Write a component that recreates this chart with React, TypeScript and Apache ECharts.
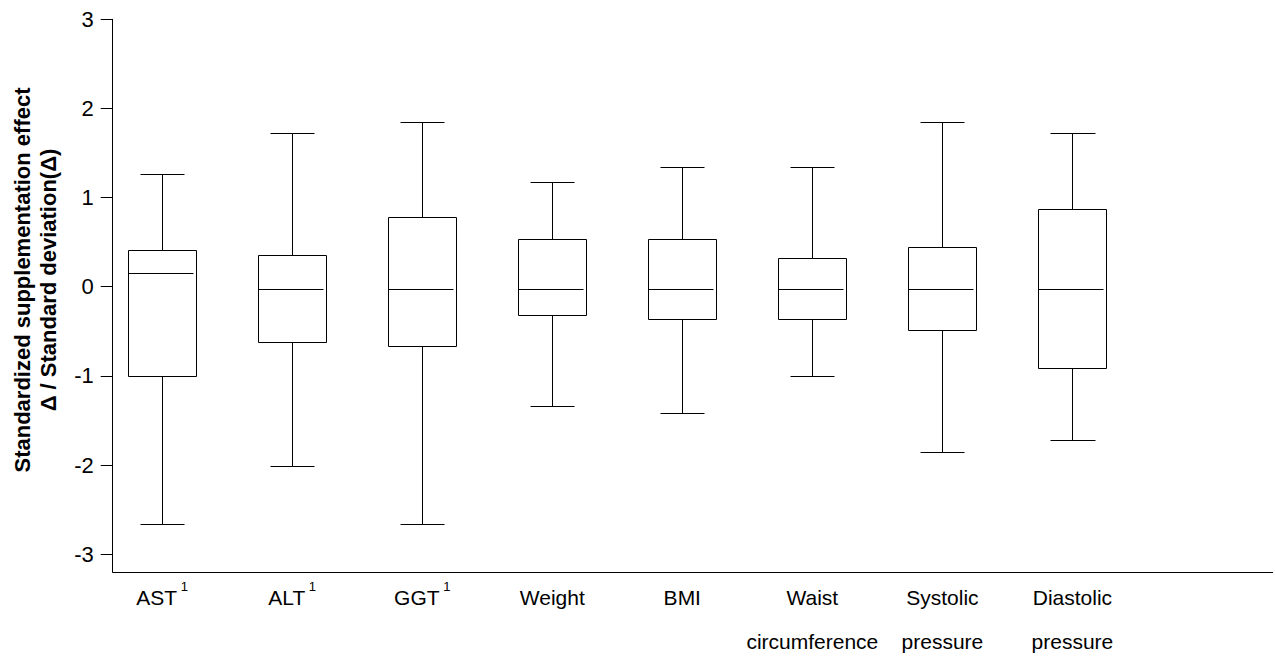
import React, { useEffect, useRef } from "react";
import * as echarts from "echarts";

const categories = ["AST", "ALT", "GGT", "Weight", "BMI", "Waist\ncircumference", "Systolic\npressure", "Diastolic\npressure"];
const superscripts = ["1", "1", "1", "", "", "", "", ""];
const mins = [-2.66, -2.01, -2.66, -1.34, -1.42, -1.0, -1.85, -1.72];
const q1s = [-1.0, -0.62, -0.66, -0.32, -0.36, -0.36, -0.49, -0.91];
const medians = [0.15, -0.02, -0.02, -0.02, -0.02, -0.02, -0.02, -0.02];
const q3s = [0.41, 0.36, 0.78, 0.53, 0.53, 0.32, 0.45, 0.87];
const maxs = [1.26, 1.72, 1.85, 1.17, 1.34, 1.34, 1.85, 1.72];
const yTicks = [-3, -2, -1, 0, 1, 2, 3];
const yTitle = "Standardized supplementation effect\nΔ / Standard deviation(Δ)";

const FONT = '"Liberation Sans", Arial, sans-serif';
const BOX_WIDTH = 0.523;
const CAP_WIDTH = 0.34;

export default function App() {
  const ref = useRef<HTMLDivElement>(null);
  useEffect(() => {
    if (!ref.current) return;
    const chart = echarts.init(ref.current, undefined, { renderer: "svg" });
    const data = categories.map((_, i) => [i, mins[i], q1s[i], medians[i], q3s[i], maxs[i]]);
    const crisp = (v: number) => Math.round(v) + 0.5;
    chart.setOption({
      animation: false,
      backgroundColor: "#fff",
      grid: { left: 112.7, right: 2.3, top: 19.3, bottom: 85, outerBoundsMode: "none", containLabel: false },
      xAxis: {
        type: "value",
        min: -0.38,
        max: 8.54,
        splitLine: { show: false },
        axisTick: { show: false },
        axisLine: { show: true, onZero: false, lineStyle: { color: "#000", width: 1 } },
        axisLabel: {
          show: true,
          customValues: categories.map((_, i) => i),
          margin: 3,
          color: "#000",
          fontFamily: FONT,
          fontSize: 21,
          lineHeight: 44,
          hideOverlap: false,
          formatter: (v: number) => {
            const i = Math.round(v);
            const name = categories[i] ?? "";
            const sup = superscripts[i];
            return sup ? `${name}{sup| ${sup}}` : name;
          },
          rich: {
            sup: { fontSize: 13, fontFamily: FONT, color: "#000", verticalAlign: "top", padding: [5, 0, 0, 0] },
          },
        },
      },
      yAxis: {
        type: "value",
        min: -3.2,
        max: 3,
        splitLine: { show: false },
        axisLine: { show: true, onZero: false, lineStyle: { color: "#000", width: 1 } },
        axisTick: { show: true, inside: false, length: 12, customValues: yTicks, lineStyle: { color: "#000", width: 1 } },
        axisLabel: {
          show: true,
          customValues: yTicks,
          margin: 19,
          color: "#000",
          fontFamily: FONT,
          fontSize: 22,
          showMinLabel: true,
          showMaxLabel: true,
        },
      },
      graphic: [
        {
          type: "text",
          x: 35,
          y: 280,
          rotation: Math.PI / 2,
          style: {
            text: yTitle,
            fontFamily: FONT,
            fontWeight: "bold",
            fontSize: 22,
            lineHeight: 26,
            textAlign: "center",
            textVerticalAlign: "middle",
            fill: "#000",
          },
        },
      ],
      series: [
        {
          type: "custom",
          data,
          encode: { x: 0, y: [1, 2, 3, 4, 5] },
          renderItem: (params: any, api: any) => {
            const x = api.value(0);
            const cx = api.coord([x, 0])[0];
            const yMin = api.coord([x, api.value(1)])[1];
            const yQ1 = api.coord([x, api.value(2)])[1];
            const yMed = api.coord([x, api.value(3)])[1];
            const yQ3 = api.coord([x, api.value(4)])[1];
            const yMax = api.coord([x, api.value(5)])[1];
            const boxW = api.size([BOX_WIDTH, 0])[0];
            const capW = api.size([CAP_WIDTH, 0])[0];
            const lineStyle = { stroke: "#000", lineWidth: 1, fill: null };
            const left = crisp(cx - boxW / 2);
            const right = crisp(cx + boxW / 2);
            const mid = crisp(cx);
            return {
              type: "group",
              children: [
                { type: "line", shape: { x1: mid, y1: crisp(yQ3), x2: mid, y2: crisp(yMax) }, style: lineStyle },
                { type: "line", shape: { x1: mid, y1: crisp(yQ1), x2: mid, y2: crisp(yMin) }, style: lineStyle },
                { type: "line", shape: { x1: crisp(cx - capW / 2), y1: crisp(yMax), x2: crisp(cx + capW / 2), y2: crisp(yMax) }, style: lineStyle },
                { type: "line", shape: { x1: crisp(cx - capW / 2), y1: crisp(yMin), x2: crisp(cx + capW / 2), y2: crisp(yMin) }, style: lineStyle },
                {
                  type: "rect",
                  shape: { x: left, y: crisp(yQ3), width: right - left, height: crisp(yQ1) - crisp(yQ3) },
                  style: { fill: "#fff", stroke: "#000", lineWidth: 1 },
                },
                { type: "line", shape: { x1: left, y1: crisp(yMed), x2: right - 3, y2: crisp(yMed) }, style: lineStyle },
              ],
            };
          },
        },
      ],
    });
    return () => chart.dispose();
  }, []);
  return <div ref={ref} style={{ position: "fixed", left: 0, top: 0, width: 1275, height: 657 }} />;
}
